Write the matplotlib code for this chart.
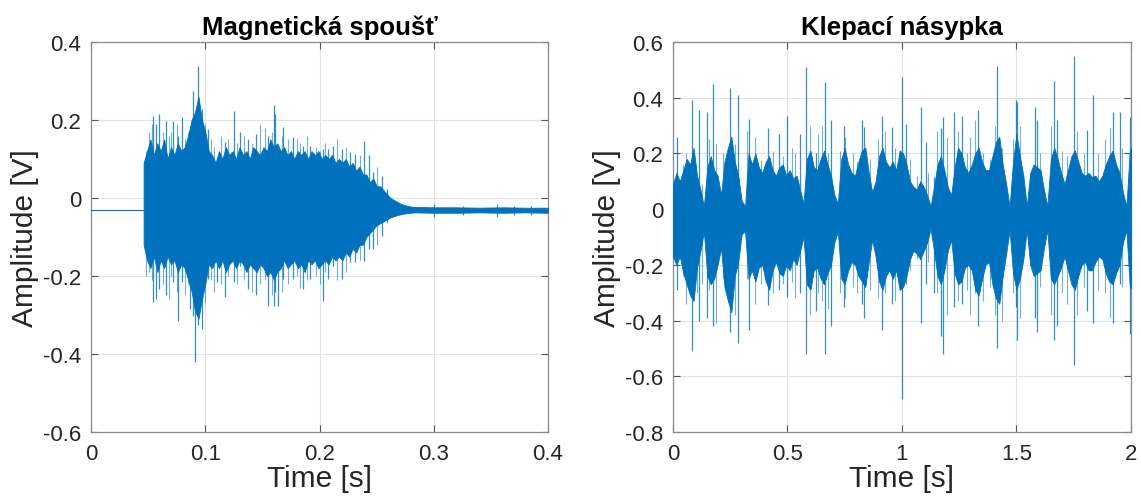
import numpy as np
import matplotlib.pyplot as plt
from matplotlib.ticker import FormatStrFormatter

plt.rcParams['font.family'] = ['Liberation Sans', 'DejaVu Sans']
plt.rcParams['axes.unicode_minus'] = False

# barva jako v MATLABu
modra = '#0072BD'

# ---- Magneticka spoust
# klidova uroven pred a po udalosti (cas, hodnota)
mag_klid_t = [0.0, 0.0462]
mag_klid_v = [-0.03, -0.03]

# husta obalka, vzorky po 3 ms od 0.046 s
mag_t0, mag_dt = 0.046, 0.003
mag_hi = [0.09, 0.12, 0.15, 0.11, 0.14, 0.12, 0.15, 0.10, 0.13, 0.11,
          0.14, 0.12, 0.13, 0.16, 0.20, 0.22, 0.26, 0.20, 0.17, 0.12,
          0.11, 0.09, 0.12, 0.10, 0.13, 0.11, 0.12, 0.10, 0.13, 0.11,
          0.12, 0.10, 0.13, 0.12, 0.11, 0.13, 0.12, 0.15, 0.13, 0.14,
          0.12, 0.13, 0.11, 0.12, 0.10, 0.12, 0.11, 0.12, 0.10, 0.12,
          0.11, 0.12, 0.10, 0.11, 0.10, 0.11, 0.09, 0.10, 0.09, 0.10,
          0.08, 0.09, 0.07, 0.08, 0.06, 0.06, 0.04, 0.05, 0.03, 0.03,
          0.02, 0.01, 0.00, -0.005, -0.01, -0.015, -0.018, -0.02, -0.022, -0.023]
mag_lo = [-0.12, -0.16, -0.18, -0.15, -0.19, -0.16, -0.18, -0.15, -0.17, -0.16,
          -0.19, -0.17, -0.18, -0.21, -0.24, -0.29, -0.31, -0.26, -0.22, -0.17,
          -0.18, -0.16, -0.18, -0.16, -0.19, -0.17, -0.16, -0.18, -0.16, -0.17,
          -0.19, -0.17, -0.18, -0.19, -0.17, -0.18, -0.20, -0.19, -0.21, -0.19,
          -0.18, -0.16, -0.18, -0.17, -0.16, -0.18, -0.17, -0.19, -0.16, -0.17,
          -0.16, -0.18, -0.17, -0.16, -0.17, -0.15, -0.16, -0.15, -0.16, -0.14,
          -0.15, -0.13, -0.14, -0.12, -0.12, -0.10, -0.09, -0.08, -0.07, -0.065,
          -0.06, -0.055, -0.05, -0.047, -0.044, -0.042, -0.040, -0.039, -0.038, -0.037]

# dozvuk po 0.28 s
mag_tail_t = [0.283, 0.300, 0.320, 0.340, 0.360, 0.380, 0.400]
mag_tail_hi = [-0.023, -0.024, -0.024, -0.025, -0.024, -0.025, -0.025]
mag_tail_lo = [-0.037, -0.038, -0.038, -0.037, -0.038, -0.037, -0.038]

# vyrazne spicky (cas, vrchol, dno)
mag_spike_t = [0.0546, 0.0569, 0.0598, 0.0657, 0.0721, 0.0765, 0.0794, 0.0867, 0.0896, 0.0913,
               0.0939, 0.0969, 0.1027, 0.1100, 0.1173, 0.1255, 0.1304, 0.1377, 0.1444, 0.1552,
               0.1605, 0.1611, 0.1640, 0.1683, 0.1771, 0.1858, 0.1917, 0.2028, 0.2077, 0.2121,
               0.2194, 0.2267, 0.2311, 0.2393, 0.2433, 0.2471, 0.2544, 0.2588,
               0.300, 0.326, 0.355, 0.370, 0.385]
mag_spike_top = [0.211, 0.190, 0.215, 0.198, 0.198, 0.160, 0.207, 0.173, 0.273, 0.200,
                 0.339, 0.228, 0.177, 0.100, 0.143, 0.224, 0.168, 0.151, 0.164, 0.160,
                 0.238, 0.215, 0.134, 0.181, 0.156, 0.134, 0.134, 0.126, 0.126, 0.134,
                 0.126, 0.117, 0.113, 0.147, 0.109, 0.066, 0.057, 0.023,
                 -0.015, -0.020, -0.015, -0.020, -0.020]
mag_spike_bot = [-0.268, -0.259, -0.233, -0.250, -0.216, -0.315, -0.216, -0.285, -0.302, -0.421,
                 -0.327, -0.336, -0.208, -0.216, -0.255, -0.216, -0.174, -0.233, -0.250, -0.276,
                 -0.276, -0.242, -0.276, -0.208, -0.208, -0.233, -0.208, -0.263, -0.208, -0.174,
                 -0.208, -0.165, -0.165, -0.161, -0.131, -0.131, -0.097, -0.062,
                 -0.050, -0.045, -0.050, -0.045, -0.045]

# slabsi "chlupy" na okraji
mag_hair_t = [0.048, 0.051, 0.053, 0.063, 0.068, 0.070, 0.075, 0.082, 0.085, 0.100,
              0.105, 0.108, 0.114, 0.120, 0.128, 0.134, 0.141, 0.148, 0.152, 0.158,
              0.167, 0.172, 0.180, 0.183, 0.189, 0.197, 0.200, 0.205, 0.215, 0.223,
              0.235, 0.250]
mag_hair_top = [0.12, 0.17, 0.19, 0.17, 0.16, 0.17, 0.19, 0.15, 0.17, 0.19,
                0.15, 0.13, 0.16, 0.15, 0.14, 0.16, 0.14, 0.19, 0.18, 0.17,
                0.16, 0.15, 0.15, 0.14, 0.16, 0.13, 0.12, 0.14, 0.15, 0.13,
                0.11, 0.08]
mag_hair_bot = [-0.20, -0.19, -0.21, -0.22, -0.26, -0.20, -0.24, -0.25, -0.22, -0.27,
                -0.21, -0.24, -0.22, -0.20, -0.22, -0.21, -0.24, -0.22, -0.21, -0.25,
                -0.24, -0.22, -0.20, -0.23, -0.21, -0.20, -0.22, -0.19, -0.21, -0.19,
                -0.16, -0.12]

# ---- Klepaci nasypka, obalka po 15 ms od 0 s
kl_t0, kl_dt = 0.0, 0.015
kl_hi = [0.09, 0.13, 0.10, 0.14, 0.18, 0.16, 0.22, 0.12, 0.07, 0.01,
         0.15, 0.19, 0.14, 0.12, 0.05, 0.17, 0.22, 0.26, 0.17, 0.12,
         0.03, 0.01, 0.20, 0.16, 0.20, 0.15, 0.13, 0.17, 0.19, 0.14,
         0.12, 0.15, 0.16, 0.12, 0.14, 0.11, 0.12, 0.07, 0.02, 0.18,
         0.21, 0.15, 0.14, 0.18, 0.21, 0.16, 0.12, 0.05, 0.02, 0.18,
         0.22, 0.16, 0.13, 0.12, 0.17, 0.21, 0.22, 0.13, 0.06, 0.10,
         0.19, 0.22, 0.17, 0.15, 0.17, 0.14, 0.21, 0.20, 0.16, 0.10,
         0.08, 0.07, 0.10, 0.08, 0.05, 0.01, 0.08, 0.16, 0.19, 0.14,
         0.08, 0.05, 0.15, 0.22, 0.20, 0.15, 0.13, 0.16, 0.20, 0.22,
         0.17, 0.14, 0.14, 0.19, 0.24, 0.26, 0.16, 0.09, 0.01, 0.17,
         0.27, 0.19, 0.12, 0.01, 0.13, 0.16, 0.15, 0.14, 0.07, 0.01,
         0.18, 0.22, 0.18, 0.13, 0.09, 0.14, 0.19, 0.21, 0.17, 0.13,
         0.12, 0.13, 0.115, 0.12, 0.10, 0.12, 0.16, 0.19, 0.21, 0.16,
         0.13, 0.06, 0.01, 0.21, 0.235]
kl_lo = [-0.17, -0.20, -0.17, -0.23, -0.27, -0.31, -0.33, -0.21, -0.15, -0.08,
         -0.24, -0.27, -0.25, -0.20, -0.14, -0.28, -0.33, -0.37, -0.24, -0.19,
         -0.09, -0.08, -0.25, -0.22, -0.26, -0.21, -0.20, -0.26, -0.29, -0.22,
         -0.19, -0.23, -0.24, -0.20, -0.22, -0.18, -0.20, -0.15, -0.10, -0.27,
         -0.29, -0.22, -0.21, -0.25, -0.27, -0.23, -0.20, -0.12, -0.08, -0.25,
         -0.27, -0.22, -0.19, -0.20, -0.24, -0.26, -0.28, -0.19, -0.11, -0.17,
         -0.26, -0.29, -0.24, -0.22, -0.25, -0.22, -0.29, -0.28, -0.24, -0.18,
         -0.15, -0.16, -0.18, -0.15, -0.12, -0.07, -0.15, -0.24, -0.27, -0.22,
         -0.15, -0.11, -0.23, -0.27, -0.26, -0.21, -0.20, -0.22, -0.29, -0.31,
         -0.25, -0.20, -0.19, -0.27, -0.32, -0.34, -0.24, -0.16, -0.075, -0.23,
         -0.29, -0.25, -0.18, -0.075, -0.20, -0.24, -0.23, -0.22, -0.14, -0.075,
         -0.25, -0.27, -0.24, -0.21, -0.17, -0.22, -0.27, -0.29, -0.24, -0.20,
         -0.19, -0.22, -0.22, -0.19, -0.17, -0.18, -0.23, -0.26, -0.27, -0.23,
         -0.20, -0.12, -0.075, -0.28, -0.29]

kl_spike_t = [0.016, 0.083, 0.114, 0.150, 0.173, 0.249, 0.284, 0.333, 0.413, 0.463,
              0.499, 0.555, 0.582, 0.623, 0.664, 0.690, 0.748, 0.824, 0.836, 0.914,
              0.958, 0.999, 1.017, 1.082, 1.105, 1.141, 1.169, 1.178, 1.229, 1.261,
              1.333, 1.416, 1.498, 1.501, 1.581, 1.588, 1.665, 1.675, 1.750, 1.806,
              1.836, 1.923, 1.952, 1.996]
kl_spike_top = [0.26, 0.39, 0.355, 0.35, 0.45, 0.435, 0.41, 0.325, 0.29, 0.27,
                0.335, 0.27, 0.51, 0.20, 0.455, 0.32, 0.30, 0.32, 0.295, 0.335,
                0.295, 0.475, 0.305, 0.365, 0.24, 0.115, 0.29, 0.33, 0.35, 0.335,
                0.355, 0.515, 0.39, 0.385, 0.365, 0.32, 0.46, 0.32, 0.55, 0.285,
                0.41, 0.35, 0.35, 0.33]
kl_spike_bot = [-0.29, -0.51, -0.40, -0.39, -0.42, -0.44, -0.48, -0.435, -0.345, -0.29,
                -0.315, -0.30, -0.52, -0.365, -0.52, -0.42, -0.35, -0.34, -0.39, -0.435,
                -0.34, -0.68, -0.27, -0.41, -0.27, -0.30, -0.455, -0.52, -0.35, -0.34,
                -0.42, -0.50, -0.35, -0.47, -0.39, -0.44, -0.47, -0.42, -0.56, -0.365,
                -0.41, -0.41, -0.27, -0.45]

kl_hair_t = [0.045, 0.057, 0.103, 0.125, 0.159, 0.188, 0.220, 0.270, 0.322, 0.358,
             0.383, 0.438, 0.482, 0.518, 0.533, 0.598, 0.635, 0.649, 0.678, 0.729,
             0.751, 0.788, 0.802, 0.860, 0.897, 0.926, 0.969, 1.035, 1.064, 1.115,
             1.151, 1.195, 1.246, 1.282, 1.297, 1.319, 1.355, 1.384, 1.406, 1.435,
             1.486, 1.515, 1.559, 1.603, 1.653, 1.697, 1.719, 1.763, 1.793, 1.857,
             1.886, 1.908, 1.959]
kl_hair_top = [0.16, 0.20, 0.12, 0.09, 0.25, 0.235, 0.20, 0.235, 0.28, 0.26,
               0.175, 0.21, 0.19, 0.22, 0.20, 0.30, 0.27, 0.30, 0.20, 0.21,
               0.26, 0.20, 0.17, 0.18, 0.25, 0.28, 0.22, 0.18, 0.12, 0.13,
               0.28, 0.26, 0.28, 0.20, 0.26, 0.32, 0.20, 0.18, 0.30, 0.22,
               0.25, 0.30, 0.12, 0.20, 0.30, 0.21, 0.19, 0.28, 0.20, 0.20,
               0.25, 0.29, 0.22]
kl_hair_bot = [-0.24, -0.34, -0.30, -0.27, -0.29, -0.41, -0.25, -0.38, -0.25, -0.34,
               -0.27, -0.30, -0.27, -0.26, -0.32, -0.38, -0.30, -0.33, -0.36, -0.30,
               -0.32, -0.28, -0.30, -0.29, -0.32, -0.30, -0.33, -0.22, -0.18, -0.19,
               -0.30, -0.38, -0.33, -0.29, -0.38, -0.30, -0.33, -0.28, -0.38, -0.40,
               -0.30, -0.39, -0.18, -0.28, -0.38, -0.30, -0.34, -0.38, -0.28, -0.29,
               -0.30, -0.39, -0.28]

fig = plt.figure(figsize=(11.41, 5.02), dpi=100)
ax1 = fig.add_axes([0.0798, 0.1375, 0.4005, 0.777])
ax2 = fig.add_axes([0.5898, 0.1375, 0.4014, 0.777])


def nakresli(ax, t0, dt, hi, lo, st, stop, sbot, ht, htop, hbot):
    t = t0 + dt * np.arange(len(hi))
    ax.fill_between(t, lo, hi, color=modra, lw=0.6, zorder=3)
    ax.vlines(ht, hbot, htop, color=modra, lw=0.8, alpha=0.55, zorder=3)
    ax.vlines(st, sbot, stop, color=modra, lw=0.9, alpha=0.8, zorder=3)


def uprav(ax, titulek, xlim, ylim, xt, yt):
    ax.set_xlim(xlim)
    ax.set_ylim(ylim)
    ax.set_xticks(xt)
    ax.set_yticks(yt)
    ax.xaxis.set_major_formatter(FormatStrFormatter('%g'))
    ax.yaxis.set_major_formatter(FormatStrFormatter('%g'))
    ax.grid(True, color='#e3e3e3', lw=0.8, zorder=0)
    ax.tick_params(direction='in', length=5, top=True, right=True, labelsize=16,
                   labelcolor='#262626', color='#555555')
    ax.tick_params(axis='x', pad=8)
    ax.tick_params(axis='y', pad=7)
    for s in ax.spines.values():
        s.set_color('#8a8a8a')
        s.set_linewidth(0.9)
    ax.set_title(titulek, fontsize=18.5, fontweight='bold', pad=6)
    ax.set_xlabel('Time [s]', fontsize=21.5, color='#262626', labelpad=0)
    ax.set_ylabel('Amplitude [V]', fontsize=21.5, color='#262626', labelpad=3)


# magneticka spoust
ax1.plot(mag_klid_t, mag_klid_v, color=modra, lw=0.8, zorder=3)
ax1.fill_between(mag_tail_t, mag_tail_lo, mag_tail_hi, color=modra, lw=0.6, zorder=3)
nakresli(ax1, mag_t0, mag_dt, mag_hi, mag_lo, mag_spike_t, mag_spike_top, mag_spike_bot,
         mag_hair_t, mag_hair_top, mag_hair_bot)

# klepaci nasypka
nakresli(ax2, kl_t0, kl_dt, kl_hi, kl_lo, kl_spike_t, kl_spike_top, kl_spike_bot,
         kl_hair_t, kl_hair_top, kl_hair_bot)

uprav(ax1, 'Magnetická spoušť', (0, 0.4), (-0.6, 0.4),
      [0, 0.1, 0.2, 0.3, 0.4], [-0.6, -0.4, -0.2, 0, 0.2, 0.4])
uprav(ax2, 'Klepací násypka', (0, 2), (-0.8, 0.6),
      [0, 0.5, 1, 1.5, 2], [-0.8, -0.6, -0.4, -0.2, 0, 0.2, 0.4, 0.6])

plt.savefig('out.png', dpi=100)
